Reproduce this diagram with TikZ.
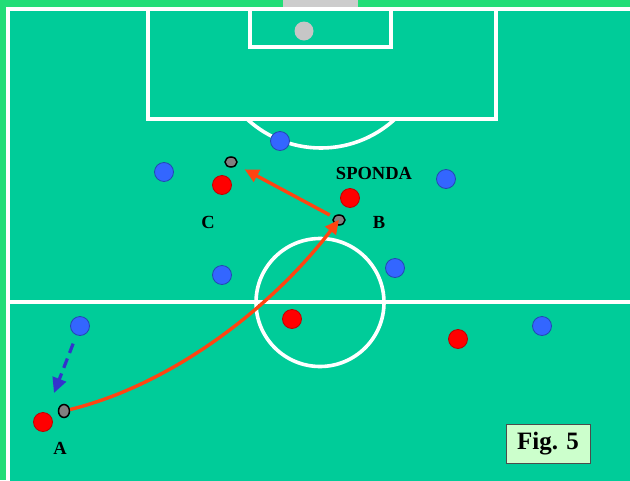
\documentclass[tikz,border=0pt]{standalone}
\usepackage{fontspec}
\setmainfont{Liberation Serif}
\usepackage{tikz}
\usetikzlibrary{arrows.meta,shapes.geometric}

\definecolor{grass}{HTML}{00CC99}
\definecolor{border}{HTML}{22DD77}
\definecolor{redshirt}{HTML}{FF0000}
\definecolor{blueshirt}{HTML}{3366FF}
\definecolor{passline}{HTML}{FF4411}
\definecolor{runline}{HTML}{3333CC}
\definecolor{figbox}{HTML}{CCFFCC}

\begin{document}
\begin{tikzpicture}[x=1pt,y=-1pt,%
	fieldline/.style={draw=white, line width=3.6pt},
	redplayer/.style={circle, minimum size=19pt, inner sep=0pt, fill=redshirt, draw=redshirt!75!black, line width=0.8pt},
	blueplayer/.style={circle, minimum size=19pt, inner sep=0pt, fill=blueshirt, draw=blueshirt!70!black, line width=0.8pt},
	ball/.style={ellipse, minimum width=12pt, minimum height=10pt, inner sep=0pt, fill=gray, draw=black, line width=1.5pt},
	tag/.style={font=\fontsize{18.5}{20}\selectfont\bfseries, inner sep=0pt},
	pass/.style={draw=passline, line width=3.4pt, -{Triangle[length=14pt,width=13pt]}},
	run/.style={draw=runline, line width=3.2pt, dash pattern=on 10pt off 6pt, -{Triangle[length=15pt,width=14pt]}}]
	\useasboundingbox (0,0) rectangle (630,480);
	% pitch
	\fill[border] (0,0) rectangle (630,480);
	\fill[grass] (8,9) rectangle (632,482);
	\fill[gray!40] (283,0) rectangle (358,7);
	\draw[fieldline] (8,482) -- (8,9) -- (632,9);
	\draw[fieldline] (148,9) rectangle (496,119);
	\draw[fieldline] (250,9) rectangle (391,47);
	\begin{scope}
		\clip (140,119) rectangle (500,160);
		\draw[fieldline] (321,39) circle (109);
	\end{scope}
	\draw[fieldline] (8,302) -- (632,302);
	\draw[fieldline] (320,302.5) circle (64);
	\fill[gray!45] (304,31) circle (9.5);
	% players
	\node[blueplayer] (blue1) at (280,141) {};
	\node[blueplayer] (blue2) at (164,172) {};
	\node[blueplayer] (blue3) at (446,179) {};
	\node[blueplayer] (blue4) at (222,275) {};
	\node[blueplayer] (blue5) at (395,268) {};
	\node[blueplayer] (blue6) at (80,326) {};
	\node[blueplayer] (blue7) at (542,326) {};
	\node[redplayer] (redC) at (222,185) {};
	\node[redplayer] (redB) at (350,198) {};
	\node[redplayer] (red3) at (292,319) {};
	\node[redplayer] (red4) at (458,339) {};
	\node[redplayer] (redA) at (43,422) {};
	% balls
	\node[ball] (ballC) at (231,162) {};
	\node[ball] (ballB) at (339,220) {};
	\node[ball, minimum width=11pt, minimum height=13pt] (ballA) at (64,411) {};
	% labels
	\node[tag] (sponda) at (374,173) {SPONDA};
	\node[tag] (labC) at (208,222) {C};
	\node[tag] (labB) at (379,222) {B};
	\node[tag] (labA) at (60,448) {A};
	\node[draw=black!70, fill=figbox, line width=0.8pt, minimum width=84pt, minimum height=39pt,
		font=\fontsize{25}{27}\selectfont\bfseries] (fig) at (548,443.5) {Fig. 5};
	% moves
	\coordinate (runA) at (54,393);
	\draw[pass] (ballA) .. controls (170,385) and (270,310) .. ([yshift=6pt]ballB.south);
	\draw[pass, shorten >=9pt, shorten <=4pt] (ballB) -- (ballC);
	\draw[run, shorten <=9pt] (blue6) -- (runA);
\end{tikzpicture}
\end{document}
